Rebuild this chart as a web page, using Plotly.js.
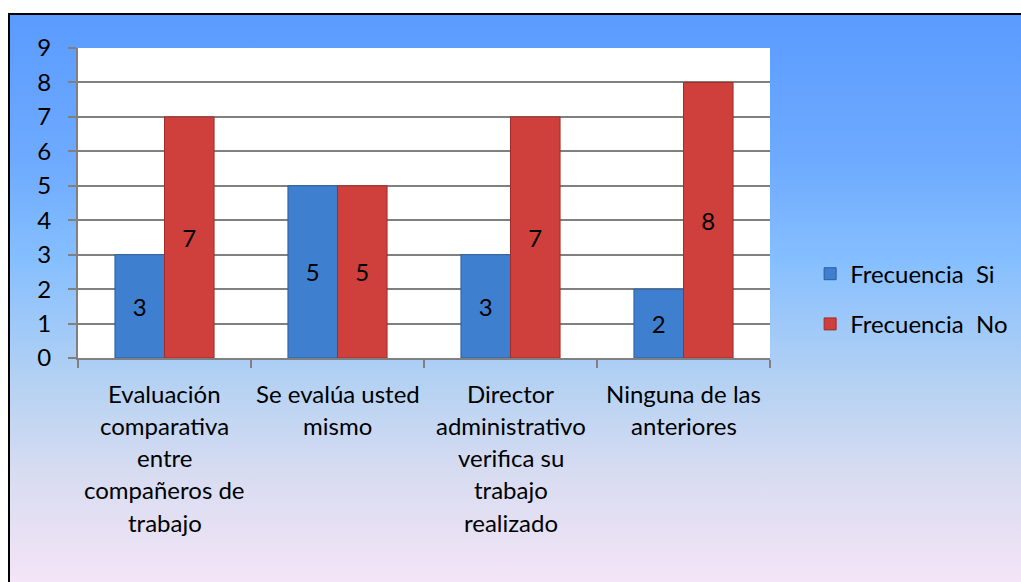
<!DOCTYPE html>
<html>
<head>
<meta charset="utf-8">
<script src="https://cdn.plot.ly/plotly-3.0.1.min.js"></script>
<style>
  html, body { margin: 0; padding: 0; background: #ffffff; width: 1021px; height: 582px; overflow: hidden; }
  #bg { position: absolute; left: 8px; top: 13px; width: 1030px; height: 590px;
        border: 2px solid #000; box-sizing: border-box;
        background: linear-gradient(to bottom, #5a9bff 0%, #6eaaff 25%, #86bfff 42%, #b3d1f3 62%, #d7dcf1 78%, #f9e6f8 100%); }
  #chart { position: absolute; left: 0; top: 0; width: 1021px; height: 582px; }
</style>
</head>
<body>
<div id="bg"></div>
<div id="chart"></div>
<script>
const categories = [
  "Evaluación comparativa entre compañeros de trabajo",
  "Se evalúa usted mismo",
  "Director administrativo verifica su trabajo realizado",
  "Ninguna de las anteriores"
];
const categoryLines = [
  ["Evaluación", "comparativa", "entre", "compañeros de", "trabajo"],
  ["Se evalúa usted", "mismo"],
  ["Director", "administrativo", "verifica su", "trabajo", "realizado"],
  ["Ninguna de las", "anteriores"]
];
const seriesNames = ["Frecuencia  Si", "Frecuencia  No"];
const valuesSi = [3, 5, 3, 2];
const valuesNo = [7, 5, 7, 8];
const yTicks = [0, 1, 2, 3, 4, 5, 6, 7, 8, 9];

const FONT = "Lato, 'Open Sans', sans-serif";
const FS = 24;

const traces = [
  {
    type: "bar", name: seriesNames[0], x: categories, y: valuesSi,
    text: valuesSi.map(String), textposition: "inside", insidetextanchor: "middle",
    textfont: { family: FONT, size: FS, color: "#000" }, constraintext: "none",
    marker: { color: "#3f7fcf", line: { color: "#2d5f9e", width: 1 } },
    legendgroup: "a", hoverinfo: "none"
  },
  {
    type: "bar", name: seriesNames[1], x: categories, y: valuesNo,
    text: valuesNo.map(String), textposition: "inside", insidetextanchor: "middle",
    textfont: { family: FONT, size: FS, color: "#000" }, constraintext: "none",
    marker: { color: "#cf3f3c", line: { color: "#9e2d2b", width: 1 } },
    legendgroup: "b", hoverinfo: "none"
  }
];

const annotations = [];
categoryLines.forEach((lines, ci) => {
  lines.forEach((ln, li) => {
    annotations.push({
      x: categories[ci], xref: "x", y: 0, yref: "paper",
      yanchor: "middle", xanchor: "center",
      yshift: -(35 + li * 32.25),
      text: ln, showarrow: false,
      font: { family: FONT, size: FS, color: "#000" }
    });
  });
});

const layout = {
  width: 1021, height: 582,
  margin: { l: 78, r: 251, t: 48, b: 224, pad: 0, autoexpand: false },
  paper_bgcolor: "rgba(0,0,0,0)",
  plot_bgcolor: "#ffffff",
  barmode: "group", bargap: 0.427, bargroupgap: 0,
  font: { family: FONT, size: FS, color: "#000" },
  showlegend: true,
  legend: {
    x: 1.058, xanchor: "left", y: 0.19, yanchor: "middle",
    xref: "paper", yref: "paper",
    bgcolor: "rgba(0,0,0,0)", font: { family: FONT, size: FS, color: "#000" },
    traceorder: "grouped", tracegroupgap: 16, itemwidth: 30
  },
  xaxis: {
    type: "category", showticklabels: false,
    tickson: "boundaries", ticks: "outside", ticklen: 8, tickcolor: "#808080", tickwidth: 2,
    showline: true, linecolor: "#808080", linewidth: 2,
    showgrid: false, zeroline: false, fixedrange: true
  },
  yaxis: {
    range: [0, 9], tickvals: yTicks, ticktext: yTicks.map(String),
    ticks: "outside", ticklen: 8, tickcolor: "#808080", tickwidth: 2,
    ticklabelstandoff: 12,
    showline: true, linecolor: "#808080", linewidth: 2,
    showgrid: true, gridcolor: "#808080", gridwidth: 2,
    zeroline: false, fixedrange: true,
    tickfont: { family: FONT, size: FS, color: "#000" }
  },
  annotations: annotations
};

Plotly.newPlot("chart", traces, layout, { displayModeBar: false, staticPlot: true });
</script>
</body>
</html>
